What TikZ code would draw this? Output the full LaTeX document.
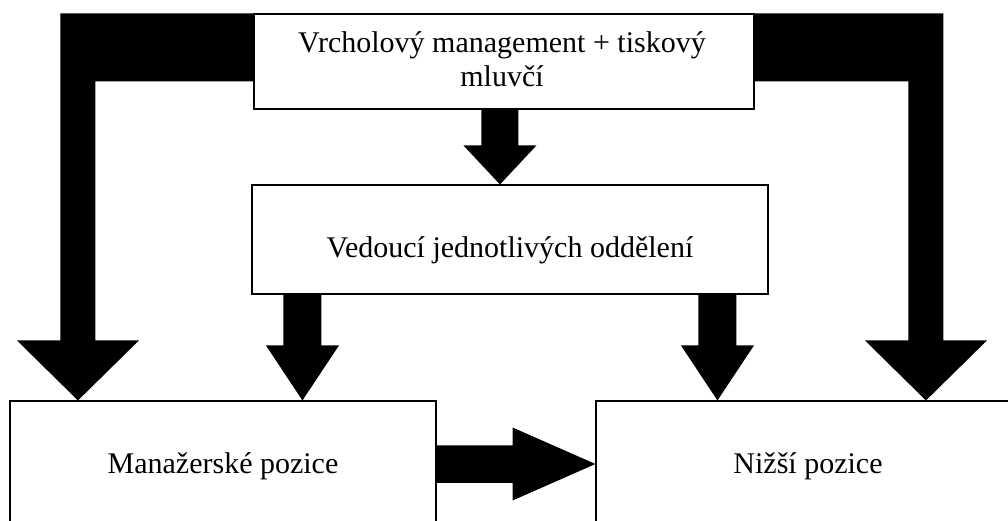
\documentclass[tikz,border=0pt]{standalone}
\usepackage{fontspec}
\setmainfont{Liberation Serif}
\usetikzlibrary{calc,backgrounds}
\newcommand\blkdown[5]{% #1 tip, #2 start, #3 shaft half, #4 head half, #5 head length
  \fill ($(#1|-#2)+(-#3,0)$) -- ($(#1)+(-#3,-#5)$) -- ($(#1)+(-#4,-#5)$) -- (#1)
        -- ($(#1)+(#4,-#5)$) -- ($(#1)+(#3,-#5)$) -- ($(#1|-#2)+(#3,0)$) -- cycle;}
\begin{document}
\begin{tikzpicture}[x=1pt,y=-1pt,
  box/.style={draw=black,line width=1.1pt,fill=white,rectangle,inner sep=0pt},
  txt/.style={font=\fontsize{30}{34}\selectfont,anchor=base,inner sep=0pt}]
\useasboundingbox (0,0) rectangle (1008,521);
\clip (0,0) rectangle (1008,521);
% boxes
\node[box,minimum width=500pt,minimum height=95pt] (top) at (504,61.5) {};
\node[box,minimum width=516pt,minimum height=109pt] (mid) at (510,239.5) {};
\node[box,minimum width=426pt,minimum height=126pt] (lb) at (223,464) {};
\node[box,minimum width=424pt,minimum height=126pt] (rb) at (808,464) {};
% texts
\node[txt] (t1) at (502,53) {Vrcholový management + tiskový};
\node[txt] (t2) at (502,87) {mluvčí};
\node[txt] (t3) at (510,257) {Vedoucí jednotlivých oddělení};
\node[txt] (t4) at (223,473.3) {Manažerské pozice};
\node[txt] (t5) at (808,473.3) {Nižší pozice};
% arrows
\begin{scope}[on background layer]
  \coordinate (lt) at ($(lb.north west)+(68.5,0)$);
  \coordinate (rt) at ($(rb.north west)+(330.5,0)$);
  \coordinate (mt) at ($(mid.north west)+(248.5,0)$);
  \coordinate (lit) at ($(lb.north west)+(293,0)$);
  \coordinate (rit) at ($(rb.north west)+(122,0)$);
  % left elbow
  \fill (top.north west) -- ($(lt|-top.north)+(-17.5,0)$) -- ($(lt)+(-17.5,-60)$)
    -- ($(lt)+(-61,-60)$) -- (lt) -- ($(lt)+(61,-60)$) -- ($(lt)+(17.5,-60)$)
    -- ($(lt|-top.north)+(17.5,68)$) -- ($(top.north west)+(0,68)$) -- cycle;
  % right elbow
  \fill (top.north east) -- ($(rt|-top.north)+(17.5,0)$) -- ($(rt)+(17.5,-60)$)
    -- ($(rt)+(61,-60)$) -- (rt) -- ($(rt)+(-61,-60)$) -- ($(rt)+(-17.5,-60)$)
    -- ($(rt|-top.north)+(-17.5,68)$) -- ($(top.north east)+(0,68)$) -- cycle;
  % straight arrows
  \blkdown{mt}{top.south}{18.5}{36.5}{39}
  \blkdown{lit}{mid.south}{19}{36.5}{55}
  \blkdown{rit}{mid.south}{19}{36.5}{55}
  % horizontal arrow
  \fill ($(lb.east)+(0,-18.75)$) -- ($(lb.east)+(76,-18.75)$) -- ($(lb.east)+(76,-36.5)$)
    -- (rb.west) -- ($(lb.east)+(76,36.5)$) -- ($(lb.east)+(76,18.75)$)
    -- ($(lb.east)+(0,18.75)$) -- cycle;
\end{scope}
\end{tikzpicture}
\end{document}
